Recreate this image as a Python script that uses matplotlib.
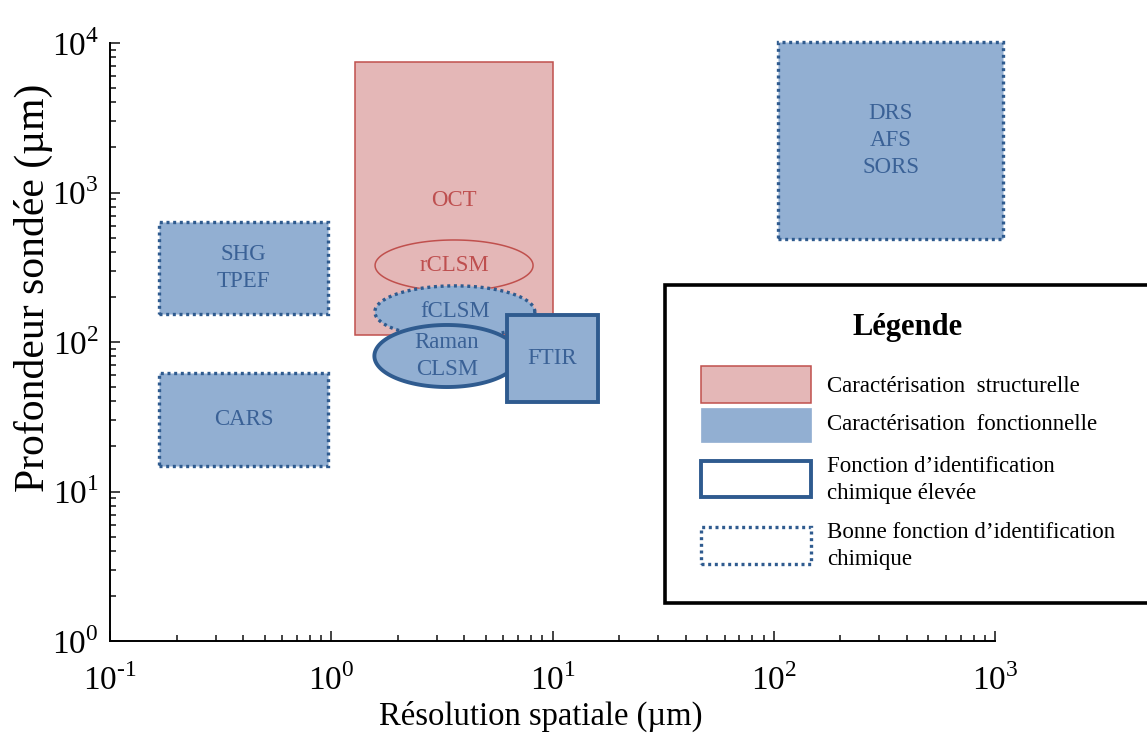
import numpy as np
import matplotlib
matplotlib.use('Agg')
import matplotlib.pyplot as plt
from matplotlib.patches import Rectangle, Polygon
from matplotlib.ticker import LogLocator, NullFormatter, FixedLocator

plt.rcParams['font.family'] = ['Liberation Serif', 'DejaVu Serif']
plt.rcParams['mathtext.fontset'] = 'custom'
plt.rcParams['mathtext.rm'] = 'Liberation Serif'

# techniques drawn as rectangles: (label, x0, x1, y0, y1, kind, edge)
rect_names = ['OCT', 'SHG\nTPEF', 'CARS', 'DRS\nAFS\nSORS', 'FTIR']
rect_x0 = [1.28, 0.167, 0.167, 105, 6.2]
rect_x1 = [10.0, 0.97, 0.97, 1090, 16.1]
rect_y0 = [111, 154, 14.8, 490, 39.7]
rect_y1 = [7460, 635, 62, 10150, 152]
rect_kind = ['struct', 'fonct', 'fonct', 'fonct', 'fonct']
rect_edge = ['thin', 'dotted', 'dotted', 'dotted', 'solid']
rect_text_y = [890, None, None, None, None]

# techniques drawn as ellipses in log space: centre and extent in decades
ell_names = ['rCLSM', 'fCLSM', 'Raman\nCLSM']
ell_cx = [3.59, 3.62, 3.33]
ell_cy = [325, 159, 80.6]
ell_wdec = [0.714, 0.723, 0.655]
ell_hdec = [0.341, 0.348, 0.415]
ell_kind = ['none', 'fonct', 'fonct']
ell_edge = ['thin', 'dotted', 'solid']

x_ticks = [0.1, 1, 10, 100, 1000]
x_ticklabels = [r'$10^{\text{-1}}$', r'$10^{0}$', r'$10^{1}$', r'$10^{2}$', r'$10^{3}$']
y_ticks = [1, 10, 100, 1000, 10000]
y_ticklabels = [r'$10^{0}$', r'$10^{1}$', r'$10^{2}$', r'$10^{3}$', r'$10^{4}$']

PINK = '#e4b7b7'
RED = '#c0504d'
BLUE = '#92afd2'
DBLUE = '#2f5b8f'
TBLUE = '#3a6196'
TRED = '#be4f4f'
LABEL_SIZE = 16.5

W, H = 1147, 738
fig = plt.figure(figsize=(W / 100, H / 100), dpi=100)
ax = fig.add_axes([110 / W, 1 - 641 / H, 885 / W, 598 / H])
ax.set_xscale('log')
ax.set_yscale('log')
ax.set_xlim(0.1, 1000)
ax.set_ylim(1, 10000)


def style(kind, edge):
    face = {'struct': PINK, 'fonct': BLUE, 'none': 'none', 'white': 'white'}[kind]
    if edge == 'thin':
        return dict(facecolor=face, edgecolor=RED, linewidth=1.1)
    if edge == 'solid':
        return dict(facecolor=face, edgecolor=DBLUE, linewidth=2.8)
    return dict(facecolor=face, edgecolor=DBLUE, linewidth=2.4,
                linestyle=(0, (0.9, 1.1)))


def text_color(kind):
    return TRED if kind in ('struct', 'none') else TBLUE


z = 2
for name, x0, x1, y0, y1, kind, edge, ty in zip(rect_names, rect_x0, rect_x1, rect_y0,
                                                 rect_y1, rect_kind, rect_edge, rect_text_y):
    if name == 'FTIR':
        continue
    ax.add_patch(Rectangle((x0, y0), x1 - x0, y1 - y0, zorder=z, clip_on=False,
                           **style(kind, edge)))
    tx = 10 ** ((np.log10(x0) + np.log10(x1)) / 2)
    if ty is None:
        ty = 10 ** ((np.log10(y0) + np.log10(y1)) / 2)
    ax.text(tx, ty, name, ha='center', va='center', fontsize=LABEL_SIZE,
            linespacing=1.4, color=text_color(kind), zorder=z + 0.5)
    z += 1

t = np.linspace(0, 2 * np.pi, 200)
for name, cx, cy, wd, hd, kind, edge in zip(ell_names, ell_cx, ell_cy, ell_wdec,
                                            ell_hdec, ell_kind, ell_edge):
    lx = np.log10(cx) + wd / 2 * np.cos(t)
    ly = np.log10(cy) + hd / 2 * np.sin(t)
    ax.add_patch(Polygon(np.column_stack([10 ** lx, 10 ** ly]), closed=True,
                         zorder=z, **style(kind, edge)))
    ax.text(cx, cy, name, ha='center', va='center', fontsize=LABEL_SIZE,
            linespacing=1.4, color=text_color(kind), zorder=z + 0.5)
    z += 1

# FTIR sits on top of the Raman ellipse
i = rect_names.index('FTIR')
ax.add_patch(Rectangle((rect_x0[i], rect_y0[i]), rect_x1[i] - rect_x0[i],
                       rect_y1[i] - rect_y0[i], zorder=z,
                       **style(rect_kind[i], rect_edge[i])))
ax.text(10 ** ((np.log10(rect_x0[i]) + np.log10(rect_x1[i])) / 2),
        10 ** ((np.log10(rect_y0[i]) + np.log10(rect_y1[i])) / 2),
        'FTIR', ha='center', va='center', fontsize=LABEL_SIZE, color=TBLUE,
        zorder=z + 0.5)

# axes frame: only left and bottom, ticks pointing inward
for s in ['top', 'right']:
    ax.spines[s].set_visible(False)
for s in ['left', 'bottom']:
    ax.spines[s].set_linewidth(1.4)
ax.xaxis.set_major_locator(FixedLocator(x_ticks))
ax.yaxis.set_major_locator(FixedLocator(y_ticks))
ax.xaxis.set_minor_locator(LogLocator(base=10, subs=np.arange(2, 10)))
ax.yaxis.set_minor_locator(LogLocator(base=10, subs=np.arange(2, 10)))
ax.xaxis.set_minor_formatter(NullFormatter())
ax.yaxis.set_minor_formatter(NullFormatter())
ax.set_xticklabels(x_ticklabels)
ax.set_yticklabels(y_ticklabels)
ax.tick_params(which='both', direction='in', width=1.2, labelsize=24, color='#222222')
ax.tick_params(which='major', length=7)
ax.tick_params(which='minor', length=4.5)
ax.tick_params(axis='x', pad=17)
ax.tick_params(axis='y', pad=8)

fig.text(541 / W, 1 - 716 / H, 'Résolution spatiale (µm)', ha='center', va='center',
         fontsize=23.5)
fig.text(33 / W, 1 - 288 / H, 'Profondeur sondée (µm)', ha='center', va='center',
         rotation=90, fontsize=30)

# legend panel
leg_labels = ['Caractérisation  structurelle', 'Caractérisation  fonctionnelle',
              'Fonction d\u2019identification\nchimique élevée',
              'Bonne fonction d\u2019identification\nchimique']
leg_kind = ['struct', 'fonct', 'white', 'white']
leg_edge = ['thin', 'none', 'solid', 'dotted']
leg_top = [366, 408, 461, 527]
leg_bot = [403, 442, 497, 564]
leg_text_y = [387, 425, 480, 546]


def fx(px):
    return px / W


def fy(py):
    return 1 - py / H


fig.patches.append(Rectangle((fx(665), fy(603)), fx(1160) - fx(665), fy(285) - fy(603),
                             transform=fig.transFigure, facecolor='white',
                             edgecolor='black', linewidth=2.6, zorder=5))
fig.text(fx(908), fy(327), 'Légende', ha='center', va='center', fontsize=22,
         fontweight='bold', zorder=6)
for lab, kind, edge, top, bot, ty in zip(leg_labels, leg_kind, leg_edge, leg_top,
                                          leg_bot, leg_text_y):
    if edge == 'none':
        st = dict(facecolor=BLUE, edgecolor=BLUE, linewidth=0.5)
    else:
        st = style(kind, edge)
    fig.patches.append(Rectangle((fx(701), fy(bot)), fx(811) - fx(701), fy(top) - fy(bot),
                                 transform=fig.transFigure, zorder=6, **st))
    fig.text(fx(827), fy(ty), lab, ha='left', va='center', fontsize=16.5,
             linespacing=1.35, zorder=6)

fig.savefig('out.png', dpi=100)
